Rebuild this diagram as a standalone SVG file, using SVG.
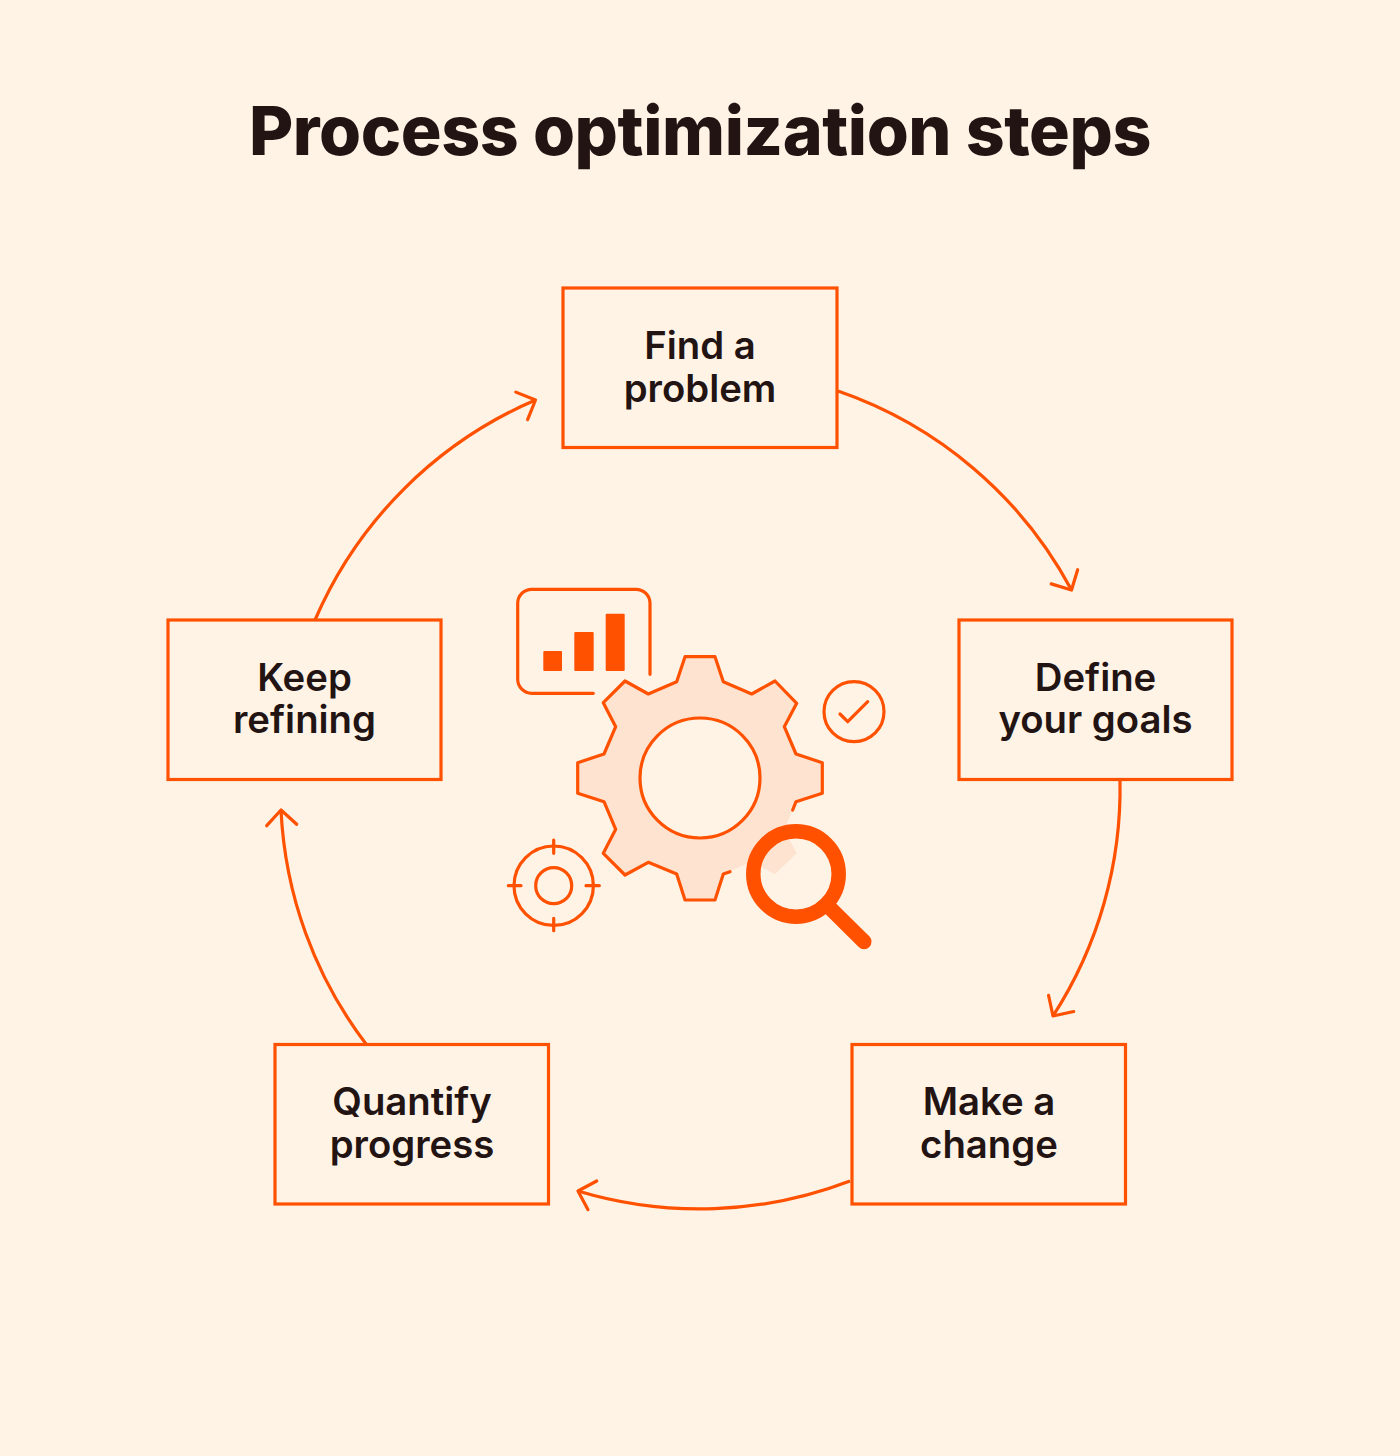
<svg xmlns="http://www.w3.org/2000/svg" width="1400" height="1456" viewBox="0 0 1400 1456">
<style>
.t{font-family:Inter,"Liberation Sans",sans-serif;fill:#231414;text-anchor:middle}
.h{font-size:68px;font-weight:800;letter-spacing:-0.4px}
.l{font-size:38.300px;font-weight:600}
.b{fill:none;stroke:#FF5100;stroke-width:3.200}
.c{fill:none;stroke:#FF5100;stroke-width:3.200;stroke-linecap:round;stroke-linejoin:round}
.f{fill:#FF5100}
</style>
<defs>
<marker id="a" markerUnits="userSpaceOnUse" markerWidth="40" markerHeight="40" refX="20" refY="20" orient="auto" overflow="visible">
<path d="M5,5 L20,20 L5,35" fill="none" stroke="#FF5100" stroke-width="3.200" stroke-linecap="round" stroke-linejoin="round"/>
</marker>
</defs>
<rect width="1400" height="1456" fill="#FFF3E6"/>
<text id="title" class="t h" x="700" y="154.500">Process optimization steps</text>
<g id="connectors" fill="none" stroke="#FF5100" stroke-width="3.200">
<path d="M838,391 A420,420 0 0 1 1071.500,590" marker-end="url(#a)"/>
<path d="M1120,780 A420,420 0 0 1 1053,1016" marker-end="url(#a)"/>
<path d="M850,1181 A420,420 0 0 1 578,1191" marker-end="url(#a)"/>
<path d="M366,1044 A420,420 0 0 1 281,810" marker-end="url(#a)"/>
<path d="M315,620 A420,420 0 0 1 535.500,400" marker-end="url(#a)"/>
</g>
<g id="node-find"><rect class="b" x="563" y="288" width="274" height="159.500"/><text class="t l" x="700" y="358.500">Find a</text><text class="t l" x="700" y="401.500">problem</text></g>
<g id="node-define"><rect class="b" x="959" y="620" width="273" height="159.500"/><text class="t l" x="1095.500" y="690.500">Define</text><text class="t l" x="1095.500" y="732.500">your goals</text></g>
<g id="node-make"><rect class="b" x="852" y="1044.500" width="273.500" height="159.500"/><text class="t l" x="989" y="1114.500">Make a</text><text class="t l" x="989" y="1157.500">change</text></g>
<g id="node-quantify"><rect class="b" x="275" y="1044.500" width="273.500" height="159.500"/><text class="t l" x="412" y="1114.500">Quantify</text><text class="t l" x="412" y="1157.500">progress</text></g>
<g id="node-keep"><rect class="b" x="168" y="620" width="273" height="159.500"/><text class="t l" x="304.500" y="690.500">Keep</text><text class="t l" x="304.500" y="732.500">refining</text></g>
<g id="illustration">
<path fill="#FEE3D0" d="M685,656.700L715,656.700L723.300,681.700L751.700,694L775,681L796.700,703.300L784.300,726.700L796,754L822.300,762.700L822.300,793.300L796,801.700L784.300,830L796.700,853.300L775,874.300L751.700,861.700L723.300,874L715,900L685,900L676.700,874L648.300,862.300L625,875L603.300,853.300L615.700,829.300L604,801.700L577.700,793.300L577.700,762.700L604,754L615.700,726.700L603.300,702.700L625,681L648.300,694L676.700,681.700Z"/>
<path class="c" d="M792.700,810L796,801.700L822.300,793.300L822.300,762.700L796,754L784.300,726.700L796.700,703.300L775,681L751.700,694L723.300,681.700L715,656.700L685,656.700L676.700,681.700L648.300,694L625,681L603.300,702.700L615.700,726.700L604,754L577.700,762.700L577.700,793.300L604,801.700L615.700,829.300L603.300,853.300L625,875L648.300,862.300L676.700,874L685,900L715,900L723.300,874L730,871.700"/>
<circle cx="700" cy="778" r="60" fill="#FFF3E6" stroke="#FF5100" stroke-width="3.200"/>
<path class="c" d="M650,674.300V603.300A14,14 0 0 0 636,589.300H531.700A14,14 0 0 0 517.700,603.300V679.300A14,14 0 0 0 531.700,693.300H593.300"/>
<rect class="f" x="543.300" y="651" width="18.700" height="20" rx="1"/>
<rect class="f" x="574.300" y="632" width="19.400" height="39" rx="1"/>
<rect class="f" x="605.700" y="613.700" width="19" height="57.300" rx="1"/>
<circle class="c" cx="854" cy="711.700" r="30"/>
<path class="c" d="M840,714L847.700,721.700L867.700,701.700"/>
<circle class="c" cx="553.700" cy="885.700" r="39.700"/>
<circle class="c" cx="553.700" cy="885.700" r="18"/>
<path class="c" d="M553.700,840V853.300M553.700,918.300V930.700M508.300,885.700H521M586,885.700H599.300"/>
<circle cx="796" cy="874" r="42.700" fill="none" stroke="#FF5100" stroke-width="14.500"/>
<path d="M830,908L864,941.700" fill="none" stroke="#FF5100" stroke-width="15" stroke-linecap="round"/>
</g>
</svg>
